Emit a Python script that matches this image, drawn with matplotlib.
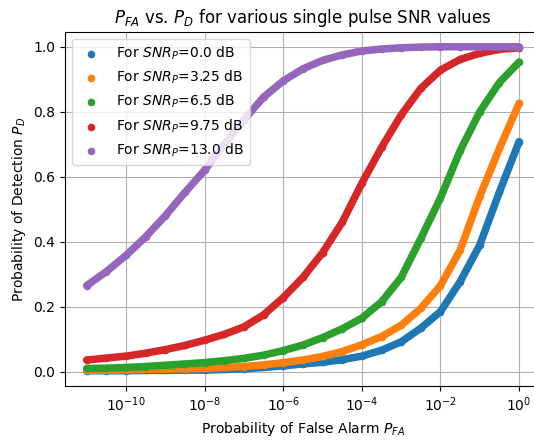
import numpy as np
import matplotlib.pyplot as plt

# P_FA sample points (log10) at half-decade steps
log_pfa = [-11, -10.5, -10, -9.5, -9, -8.5, -8, -7.5, -7, -6.5, -6, -5.5,
           -5, -4.5, -4, -3.5, -3, -2.5, -2, -1.5, -1, -0.5, 0]

snr_db = [0.0, 3.25, 6.5, 9.75, 13.0]

# P_D for each single pulse SNR
pd_0 = [0.003, 0.003, 0.003, 0.004, 0.004, 0.005, 0.005, 0.007, 0.009, 0.013, 0.018, 0.024,
        0.029, 0.037, 0.048, 0.066, 0.092, 0.134, 0.185, 0.277, 0.39, 0.553, 0.708]
pd_325 = [0.005, 0.005, 0.006, 0.007, 0.008, 0.009, 0.010, 0.013, 0.016, 0.021, 0.028, 0.036,
          0.047, 0.062, 0.083, 0.108, 0.143, 0.195, 0.265, 0.374, 0.54, 0.687, 0.826]
pd_65 = [0.010, 0.011, 0.013, 0.016, 0.020, 0.024, 0.028, 0.034, 0.041, 0.051, 0.065, 0.082,
         0.105, 0.132, 0.165, 0.215, 0.29, 0.41, 0.535, 0.68, 0.80, 0.89, 0.953]
pd_975 = [0.036, 0.042, 0.048, 0.057, 0.068, 0.081, 0.097, 0.115, 0.138, 0.175, 0.228, 0.29,
          0.366, 0.46, 0.58, 0.69, 0.79, 0.872, 0.928, 0.961, 0.98, 0.992, 0.997]
pd_13 = [0.265, 0.308, 0.358, 0.415, 0.48, 0.552, 0.62, 0.70, 0.775, 0.845, 0.895, 0.932,
         0.958, 0.975, 0.987, 0.993, 0.997, 0.999, 1.0, 1.0, 1.0, 1.0, 1.0]

pd_all = [pd_0, pd_325, pd_65, pd_975, pd_13]
colors = ["tab:blue", "tab:orange", "tab:green", "tab:red", "tab:purple"]

pfa = 10.0 ** np.array(log_pfa)

fig = plt.figure(figsize=(5.34, 4.40), dpi=100)
ax = fig.add_axes([0.1217, 0.1227, 0.891, 0.805])

for snr, pd, c in zip(snr_db, pd_all, colors):
    # thick line stands in for the dense scatter band
    ax.plot(pfa, pd, color=c, lw=5.4, solid_capstyle="round", zorder=2)
    ax.scatter(pfa, pd, color=c, s=20, label=f"For $SNR_P$={snr} dB", zorder=2)

ax.set_xscale("log")
ax.set_xlim(10 ** -11.552, 10 ** 0.552)
ax.set_ylim(-0.044, 1.046)
ax.grid(True)
ax.set_xlabel("Probability of False Alarm $P_{FA}$")
ax.set_ylabel("Probability of Detection $P_D$")
ax.set_title("$P_{FA}$ vs. $P_D$ for various single pulse SNR values")
ax.legend(loc="upper left")

fig.savefig("out.png", dpi=100)
